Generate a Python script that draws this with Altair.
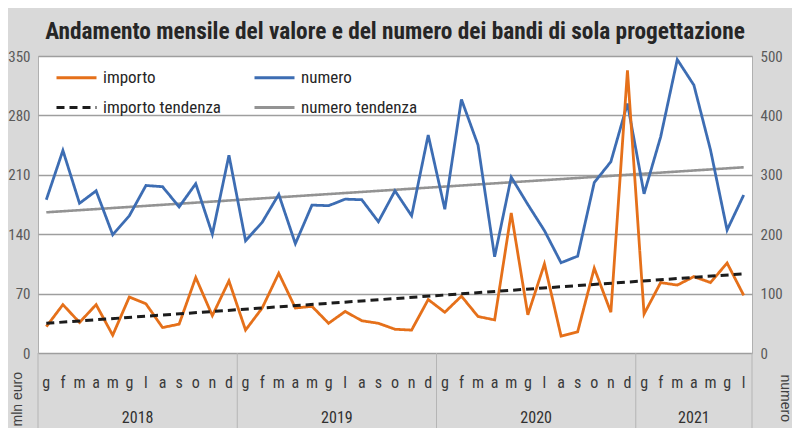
import altair as alt
import pandas as pd

# ---- data ----
month_letters = ["g","f","m","a","m","g","l","a","s","o","n","d"]
years = [2018]*12 + [2019]*12 + [2020]*12 + [2021]*7
importo = [31, 57, 36, 57, 21, 66, 58, 30, 34, 89, 44, 85,
           27, 53, 94, 53, 55, 35, 49, 38, 35, 28, 27, 63,
           48, 67, 43, 39, 165, 45, 105, 20, 25, 100, 48, 333,
           46, 83, 80, 90, 83, 106, 68]
numero = [258, 341, 252, 273, 199, 231, 282, 280, 246, 285, 200, 333,
          189, 220, 267, 184, 249, 248, 259, 258, 221, 273, 231, 367,
          242, 427, 350, 162, 296, 250, 206, 152, 163, 287, 322, 420,
          268, 364, 494, 451, 342, 207, 266]
series_names = ["importo", "numero", "importo tendenza", "numero tendenza"]
series_colors = ["#E5701A", "#3D6DB3", "#1c1c1c", "#939393"]
series_dash = [[1, 0], [1, 0], [8, 5], [1, 0]]

n = len(importo)
idx = list(range(n))
month_col = [month_letters[i % 12] for i in idx]

df_imp = pd.DataFrame({"idx": idx, "value": importo, "serie": "importo"})
df_num = pd.DataFrame({"idx": idx, "value": numero, "serie": "numero"})
df_months = pd.DataFrame({"idx": idx, "m": month_col})
year_list = sorted(set(years))
df_years = pd.DataFrame({
    "year": [str(y) for y in year_list],
    "center": [(years.index(y) + (len(years) - 1 - years[::-1].index(y))) / 2 for y in year_list],
})
bounds = sorted(set([years.index(y) - 0.5 for y in year_list] + [n - 0.5]))
df_bounds = pd.DataFrame({"b": bounds})

FONT = "Roboto Condensed, DejaVu Sans Condensed, Liberation Sans Narrow, Arial Narrow, Liberation Sans, sans-serif"
FONT2 = "Liberation Sans, Arial, sans-serif"
W, H = 714, 297

xscale = alt.Scale(domain=[-0.5, n - 0.5], nice=False, zero=False)
xaxis = alt.Axis(values=[i - 0.5 for i in range(n + 1)], labels=False, ticks=True,
                 tickSize=37, tickColor="#b5b5b5", tickWidth=1, grid=True,
                 gridColor="#d6d6d6", gridWidth=1, domain=False, title=None)
X = alt.X("idx:Q", scale=xscale, axis=xaxis)

color = alt.Color("serie:N", scale=alt.Scale(domain=series_names, range=series_colors),
                  legend=alt.Legend(title=None, orient="none", legendX=17, legendY=0,
                                    direction="horizontal", columns=2,
                                    columnPadding=27, rowPadding=-10,
                                    symbolType="stroke", symbolSize=1600,
                                    symbolStrokeWidth=3, labelFont=FONT,
                                    labelFontSize=17, labelColor="#262626",
                                    labelOffset=5))
dash = alt.StrokeDash("serie:N", scale=alt.Scale(domain=series_names, range=series_dash),
                      legend=None)

yl_axis = alt.Axis(orient="left", values=list(range(0, 351, 70)), grid=True,
                   gridColor="#9e9e9e", gridWidth=1.5, domain=False, ticks=False,
                   labelColor="#5a5a5a", labelFont=FONT, labelFontSize=15, labelPadding=8,
                   title="mln euro", titleFont=FONT2, titleFontSize=14, titleFontWeight="normal",
                   titleColor="#404040", titleAngle=-90, titleAlign="left", titleBaseline="middle",
                   titleX=-21, titleY=370)
yr_axis = alt.Axis(orient="right", values=list(range(0, 501, 100)), grid=False,
                   domain=False, ticks=False,
                   labelColor="#5a5a5a", labelFont=FONT, labelFontSize=15, labelPadding=8,
                   title="numero", titleFont=FONT2, titleFontSize=14, titleFontWeight="normal",
                   titleColor="#404040", titleAngle=90, titleAlign="left", titleBaseline="middle",
                   titleX=32, titleY=318)

YL = alt.Y("value:Q", scale=alt.Scale(domain=[0, 350], nice=False), axis=yl_axis)
YR = alt.Y("value:Q", scale=alt.Scale(domain=[0, 500], nice=False), axis=yr_axis)

imp_line = alt.Chart(df_imp).mark_line(strokeWidth=2.8).encode(x=X, y=YL, color=color, strokeDash=dash)
imp_trend = (alt.Chart(df_imp)
             .transform_regression("idx", "value")
             .transform_calculate(serie="'importo tendenza'")
             .mark_line(strokeWidth=3)
             .encode(x=X, y=YL, color=color, strokeDash=dash))
left = alt.layer(imp_line, imp_trend)

num_line = alt.Chart(df_num).mark_line(strokeWidth=2.8).encode(x=X, y=YR, color=color, strokeDash=dash)
num_trend = (alt.Chart(df_num)
             .transform_regression("idx", "value")
             .transform_calculate(serie="'numero tendenza'")
             .mark_line(strokeWidth=2.6)
             .encode(x=X, y=YR, color=color, strokeDash=dash))
right = alt.layer(num_trend, num_line)

month_text = alt.Chart(df_months).mark_text(font=FONT, fontSize=16, color="#3a3a3a",
                                            baseline="middle").encode(
    x=alt.X("idx:Q", scale=xscale, axis=None), y=alt.value(H + 30), text="m:N")
year_text = alt.Chart(df_years).mark_text(font=FONT, fontSize=16, color="#303030",
                                          baseline="middle").encode(
    x=alt.X("center:Q", scale=xscale, axis=None), y=alt.value(H + 65), text="year:N")
year_rules = alt.Chart(df_bounds).mark_rule(color="#b5b5b5", strokeWidth=1).encode(
    x=alt.X("b:Q", scale=xscale, axis=None), y=alt.value(H), y2=alt.value(H + 75))

chart = (alt.layer(right, left, month_text, year_text, year_rules)
         .resolve_scale(y="independent")
         .properties(
             width=W, height=H,
             title=alt.TitleParams(
                 "Andamento mensile del valore e del numero dei bandi di sola progettazione",
                 font=FONT, fontSize=23.3, fontWeight="bold", color="#262626",
                 anchor="middle", offset=5),
             background="#d9d9d9",
             padding={"left": 30, "top": 48, "right": 40, "bottom": 75},
             autosize=alt.AutoSizeParams(type="none"))
         .configure_view(fill="white", stroke="#b0b0b0", strokeWidth=1))

chart.save("out.html", embed_options={"renderer": "svg", "actions": False})
